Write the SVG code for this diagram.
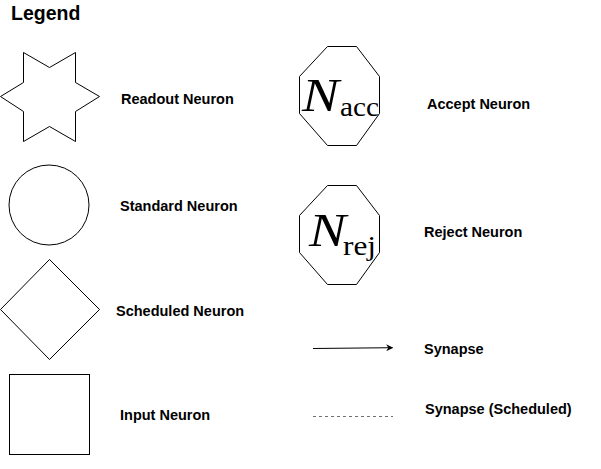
<svg xmlns="http://www.w3.org/2000/svg" width="601" height="469" viewBox="0 0 601 469">
<defs>
<style>
.shape{fill:#fff;stroke:#000;stroke-width:1}
.lbl{font-family:"Liberation Sans",Arial,sans-serif;font-weight:bold;font-size:14.5px;fill:#000}
.title{font-family:"Liberation Sans",Arial,sans-serif;font-weight:bold;font-size:19.5px;fill:#000}
.mathN{font-family:"Liberation Serif","Times New Roman",serif;font-style:italic;font-size:46px;fill:#000}
.mathSub{font-family:"Liberation Serif","Times New Roman",serif;font-size:28px;fill:#000}
</style>
<marker id="arrow" viewBox="0 0 10 10" refX="9" refY="5" markerWidth="8" markerHeight="7" markerUnits="userSpaceOnUse" orient="auto">
<path d="M0,0 L10,5 L0,10 L3,5 Z" fill="#000"/>
</marker>
</defs>
<rect width="601" height="469" fill="#fff"/>
<text class="title" x="11" y="20">Legend</text>

<g id="readout">
<polygon class="shape" points="23.5,52.5 49.5,67.5 75.5,52.5 75.5,82.5 99.5,96.5 75.5,111.5 75.5,141.5 49.5,126.5 23.5,141.5 23.5,111.5 0.5,96.5 23.5,82.5"/>
<text class="lbl" x="121" y="104">Readout Neuron</text>
</g>

<g id="standard">
<circle class="shape" cx="49" cy="205" r="40"/>
<text class="lbl" x="120" y="211">Standard Neuron</text>
</g>

<g id="scheduled">
<polygon class="shape" points="49.5,259.5 99.5,309.5 49.5,359.5 0.5,309.5"/>
<text class="lbl" x="116" y="316">Scheduled Neuron</text>
</g>

<g id="input">
<rect class="shape" x="9.5" y="374.5" width="80" height="80"/>
<text class="lbl" x="120" y="420">Input Neuron</text>
</g>

<g id="accept">
<polygon class="shape" points="327.5,46.5 356.5,46.5 379.5,76.5 379.5,113.5 356.5,145.5 327.5,145.5 299.5,113.5 299.5,76.5"/>
<text class="mathN" x="302" y="110.7" textLength="37" lengthAdjust="spacingAndGlyphs">N</text>
<text class="mathSub" x="340" y="116" textLength="39" lengthAdjust="spacingAndGlyphs">acc</text>
<text class="lbl" x="427" y="109">Accept Neuron</text>
</g>

<g id="reject">
<polygon class="shape" points="327.5,185.5 356.5,185.5 379.5,215.5 379.5,252.5 356.5,284.5 327.5,284.5 299.5,252.5 299.5,215.5"/>
<text class="mathN" x="309" y="245.7" textLength="37" lengthAdjust="spacingAndGlyphs">N</text>
<text class="mathSub" x="343" y="255" textLength="33" lengthAdjust="spacingAndGlyphs">rej</text>
<text class="lbl" x="424" y="237">Reject Neuron</text>
</g>

<g id="connectors">
<line x1="313" y1="348.5" x2="392.5" y2="347.7" stroke="#000" stroke-width="1" marker-end="url(#arrow)"/>
<line x1="313" y1="416.5" x2="393" y2="416.5" stroke="#707070" stroke-width="1" stroke-dasharray="3 3"/>
</g>

<g id="legend-labels">
<text class="lbl" x="424" y="354">Synapse</text>
<text class="lbl" x="425" y="414">Synapse (Scheduled)</text>
</g>
</svg>
